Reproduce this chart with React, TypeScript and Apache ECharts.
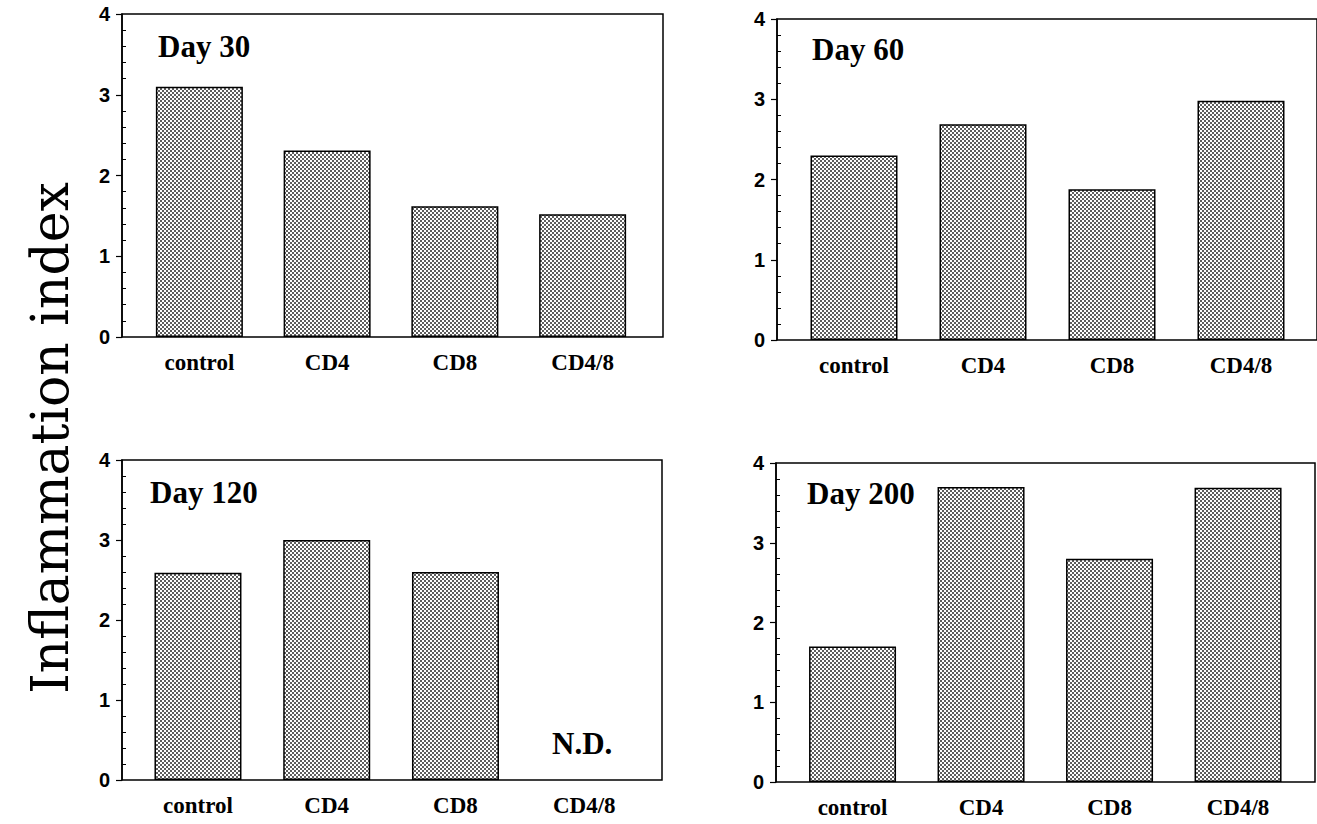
import React, { useEffect, useRef } from "react";
import * as echarts from "echarts";

// ---- data ----
const categories = ["control", "CD4", "CD8", "CD4/8"];
const day30 = [3.1, 2.31, 1.62, 1.52];
const day60 = [2.3, 2.69, 1.88, 2.98];
const day120: (number | null)[] = [2.59, 3.0, 2.6, null];
const day200 = [1.7, 3.7, 2.8, 3.69];
const panelTitles = ["Day 30", "Day 60", "Day 120", "Day 200"];
const yAxisTitle = "Inflammation index";
const notDetermined = "N.D.";
const yMin = 0;
const yMax = 4;
const yStep = 1;

const panelData = [day30, day60, day120, day200];

// ---- layout (pixels) ----
const frames = [
  { left: 122, top: 14, width: 541, height: 323 },
  { left: 777, top: 19, width: 800, height: 321 },
  { left: 122, top: 460, width: 540, height: 320 },
  { left: 776, top: 463, width: 539, height: 319 },
];
const dataAreas = [
  { left: 135.5, width: 511 },
  { left: 789.5, width: 516 },
  { left: 133.6, width: 515 },
  { left: 788.3, width: 514 },
];
const titlePos = [
  { x: 158, y: 46 },
  { x: 812, y: 49 },
  { x: 150, y: 492 },
  { x: 807, y: 493 },
];

const SERIF = "'Liberation Serif', 'Times New Roman', serif";
const SANS = "'Liberation Sans', Arial, sans-serif";

function makePattern(): HTMLCanvasElement {
  const c = document.createElement("canvas");
  c.width = 4;
  c.height = 4;
  const ctx = c.getContext("2d")!;
  ctx.fillStyle = "#ffffff";
  ctx.fillRect(0, 0, 4, 4);
  ctx.fillStyle = "#5e5e5e";
  ctx.fillRect(0, 0, 2, 2);
  ctx.fillRect(2, 2, 2, 2);
  return c;
}

export default function App() {
  const ref = useRef<HTMLDivElement>(null);

  useEffect(() => {
    if (!ref.current) return;
    const chart = echarts.init(ref.current, undefined, { renderer: "svg" });
    const pattern = { image: makePattern(), repeat: "repeat" };

    const grid: any[] = [];
    const xAxis: any[] = [];
    const yAxis: any[] = [];
    const series: any[] = [];
    const graphic: any[] = [];

    frames.forEach((f, p) => {
      grid.push({
        left: f.left,
        top: f.top,
        width: f.width,
        height: f.height,
        show: true,
        borderColor: "#000",
        borderWidth: 1.5,
        backgroundColor: "transparent",
      });
      grid.push({
        left: dataAreas[p].left,
        width: dataAreas[p].width,
        top: f.top,
        height: f.height,
      });
      xAxis.push({ gridIndex: 2 * p, type: "value", min: 0, max: 1, show: false });
      xAxis.push({
        gridIndex: 2 * p + 1,
        type: "category",
        data: categories,
        axisLine: { show: false },
        axisTick: { show: false },
        axisLabel: {
          color: "#000",
          fontFamily: SERIF,
          fontWeight: "bold",
          fontSize: 23,
          margin: 14,
        },
      });
      yAxis.push({
        gridIndex: 2 * p,
        type: "value",
        position: "left",
        min: yMin,
        max: yMax,
        interval: yStep,
        axisLine: { show: true, lineStyle: { color: "#000", width: 1.5 } },
        axisTick: { show: true, inside: false, length: 6, lineStyle: { color: "#000", width: 1.2 } },
        axisLabel: {
          color: "#000",
          fontFamily: SANS,
          fontWeight: "bold",
          fontSize: 20,
          margin: 12,
          padding: [8, 0, 0, 0],
        },
        splitLine: { show: false },
      });
      yAxis.push({
        gridIndex: 2 * p,
        type: "value",
        position: "left",
        min: yMin,
        max: yMax,
        interval: yStep,
        axisLine: { show: false },
        axisTick: { show: false, inside: true },
        minorTick: { show: true, splitNumber: 5, length: 4, lineStyle: { color: "#000", width: 1 } },
        axisLabel: { show: false },
        splitLine: { show: false },
      });
      yAxis.push({
        gridIndex: 2 * p + 1,
        type: "value",
        min: yMin,
        max: yMax,
        show: false,
      });
      series.push({
        type: "bar",
        xAxisIndex: 2 * p + 1,
        yAxisIndex: 3 * p + 2,
        data: panelData[p].map((v) => (v == null ? "-" : v)),
        barWidth: 87,
        silent: true,
        itemStyle: { color: pattern, borderColor: "#000", borderWidth: 1.5 },
      });
      graphic.push({
        type: "text",
        x: titlePos[p].x,
        y: titlePos[p].y,
        style: {
          text: panelTitles[p],
          fill: "#000",
          font: `bold 31px ${SERIF}`,
          textAlign: "left",
          textVerticalAlign: "middle",
        },
      });
    });

    graphic.push({
      type: "text",
      x: 552,
      y: 743,
      style: {
        text: notDetermined,
        fill: "#000",
        font: `bold 31px ${SERIF}`,
        textAlign: "left",
        textVerticalAlign: "middle",
      },
    });
    graphic.push({
      type: "text",
      x: 50,
      y: 438,
      rotation: Math.PI / 2,
      style: {
        text: yAxisTitle,
        fill: "#000",
        font: `normal 52px 'DejaVu Serif', serif`,
        textAlign: "center",
        textVerticalAlign: "middle",
      },
    });

    chart.setOption({
      animation: false,
      backgroundColor: "#ffffff",
      grid,
      xAxis,
      yAxis,
      series,
      graphic,
    });
    return () => chart.dispose();
  }, []);

  return (
    <div
      style={{
        position: "absolute",
        left: 0,
        top: 0,
        width: 1317,
        height: 824,
        overflow: "hidden",
      }}
    >
      <div ref={ref} style={{ width: 1317, height: 824 }} />
    </div>
  );
}
